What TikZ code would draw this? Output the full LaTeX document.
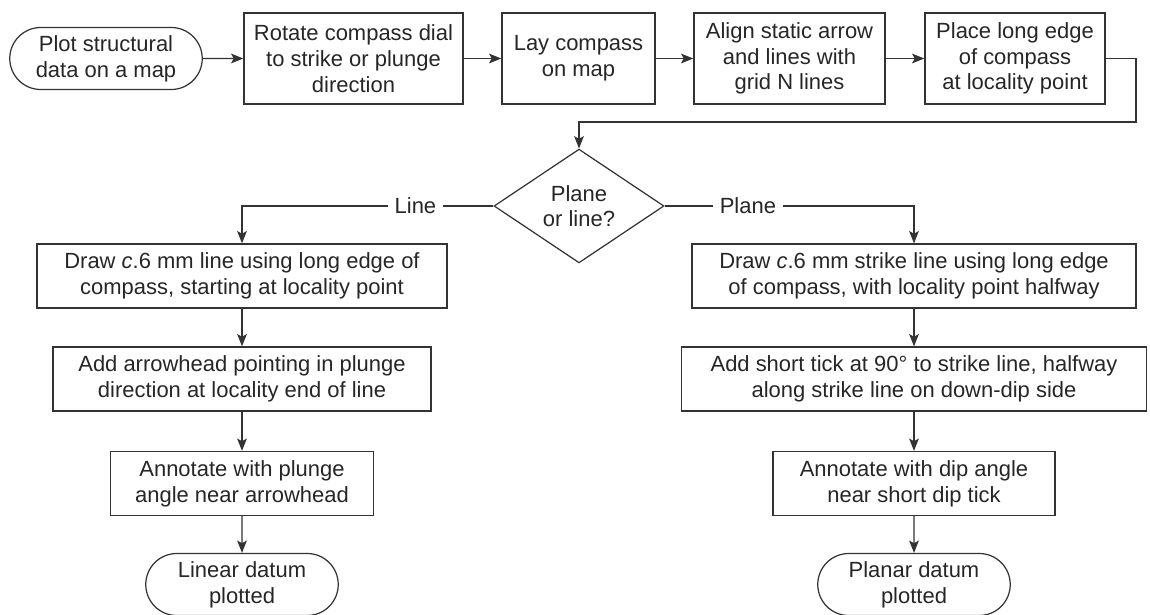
\documentclass[tikz,border=0pt]{standalone}
\usepackage{fontspec}
\setmainfont{Liberation Sans}
\usetikzlibrary{positioning, arrows.meta, shapes.geometric, shapes.misc}

\begin{document}
\begin{tikzpicture}[
  font=\fontsize{12.5}{14.6}\selectfont,
  every node/.style={text=black!85},
  proc/.style={draw=black!80, line width=0.7pt, align=center, inner sep=2pt, minimum height=1.28cm},
  term/.style={draw=black!80, line width=0.7pt, rounded rectangle, align=center, minimum width=3.92cm, minimum height=1.24cm, inner sep=1pt},
  choice/.style={draw=black!80, line width=0.7pt, diamond, align=center, minimum width=3.4cm, minimum height=2.24cm, inner sep=0pt},
  flow/.style={draw=black!80, line width=0.7pt, -{Stealth[length=7pt,width=5.5pt,inset=1.5pt]}},
  tag/.style={fill=white, inner sep=4pt}
]
\useasboundingbox (0,0) rectangle (23,-12.3);

% top row
\node[term] (plot) at (2.12,-1.17) {Plot structural\\data on a map};
\node[proc, minimum width=4.38cm, minimum height=1.82cm] (rotate) at (7.07,-1.17) {Rotate compass dial\\to strike or plunge\\direction};
\node[proc, minimum width=3.06cm, minimum height=1.82cm] (lay) at (11.57,-1.17) {Lay compass\\on map};
\node[proc, minimum width=3.82cm, minimum height=1.82cm] (align) at (15.79,-1.17) {Align static arrow\\and lines with\\grid N lines};
\node[proc, minimum width=3.6cm, minimum height=1.82cm] (place) at (20.3,-1.17) {Place long edge\\of compass\\at locality point};

\foreach \a/\b in {plot/rotate, rotate/lay, lay/align, align/place}
  \draw[flow] (\a) -- (\b);

% decision
\node[choice] (dec) at (11.58,-4.12) {Plane\\or line?};
\coordinate (bend) at (22.72,-2.44);
\draw[flow] (place.east) -| (bend) -| (dec.north);

% line branch
\node[proc, minimum width=8.2cm] (drawline) at (4.84,-5.52) {Draw \textit{c}.6 mm line using long edge of\\compass, starting at locality point};
\node[proc, minimum width=7.56cm] (arrowhead) at (4.84,-7.58) {Add arrowhead pointing in plunge\\direction at locality end of line};
\node[proc, minimum width=5.26cm] (plunge) at (4.84,-9.67) {Annotate with plunge\\angle near arrowhead};
\node[term] (linear) at (4.84,-11.69) {Linear datum\\plotted};

% plane branch
\node[proc, minimum width=8.88cm] (drawstrike) at (18.28,-5.52) {Draw \textit{c}.6 mm strike line using long edge\\of compass, with locality point halfway};
\node[proc, minimum width=9.3cm] (tick) at (18.28,-7.58) {Add short tick at 90° to strike line, halfway\\along strike line on down-dip side};
\node[proc, minimum width=5.64cm] (dip) at (18.28,-9.67) {Annotate with dip angle\\near short dip tick};
\node[term] (planar) at (18.28,-11.69) {Planar datum\\plotted};

\draw[flow] (dec.west) -| node[tag, pos=0.155] {Line} (drawline.north);
\draw[flow] (dec.east) -| node[tag, pos=0.167] {Plane} (drawstrike.north);

\foreach \a/\b in {drawline/arrowhead, arrowhead/plunge, plunge/linear, drawstrike/tick, tick/dip, dip/planar}
  \draw[flow] (\a) -- (\b);
\end{tikzpicture}
\end{document}
